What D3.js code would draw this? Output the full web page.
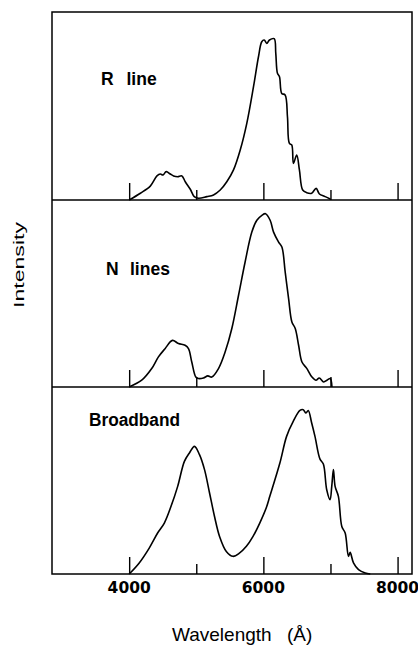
<!DOCTYPE html>
<html>
<head>
<meta charset="utf-8">
<script src="https://cdn.jsdelivr.net/npm/d3@7/dist/d3.min.js"></script>
<style>
  html, body { margin: 0; padding: 0; background: #fff; }
  svg { display: block; }
</style>
</head>
<body>
<svg id="chart" width="418" height="645"></svg>
<script>
// ---------------- DATA ----------------
const majorTicks = [4000, 6000, 8000];
const minorTicks = [5000, 7000];
const tickLabels = ["4000", "6000", "8000"];
const panelNames = ["R line", "N lines", "Broadband"];
const xTitle = "Wavelength";
const xUnit = "(Å)";
const yTitle = "Intensity";

const rLineWl = [4000, 4167, 4315, 4414, 4464, 4503, 4553, 4613, 4662, 4722, 4786, 4836, 4911, 4970, 5034, 5158, 5257, 5357, 5455, 5555, 5655, 5753, 5853, 5927, 5976, 6012, 6051, 6091, 6161, 6185, 6210, 6240, 6274, 6324, 6359, 6388, 6423, 6448, 6497, 6537, 6586, 6646, 6720, 6786, 6835, 6920, 6994, 7000];
const rLineI  = [0, 0.036, 0.074, 0.128, 0.138, 0.133, 0.151, 0.138, 0.128, 0.124, 0.128, 0.097, 0.057, 0.018, 0.009, 0.018, 0.027, 0.053, 0.097, 0.160, 0.266, 0.408, 0.603, 0.762, 0.842, 0.851, 0.833, 0.851, 0.858, 0.780, 0.674, 0.656, 0.567, 0.559, 0.443, 0.301, 0.293, 0.195, 0.239, 0.160, 0.053, 0.039, 0.036, 0.062, 0.032, 0.018, 0.005, 0];

const nLinesWl = [4000, 4187, 4336, 4436, 4535, 4645, 4734, 4833, 4884, 4933, 4993, 5032, 5107, 5172, 5231, 5331, 5430, 5530, 5630, 5728, 5828, 5903, 5978, 6032, 6101, 6152, 6227, 6276, 6325, 6376, 6425, 6475, 6525, 6575, 6649, 6724, 6784, 6833, 6899, 6948, 6997, 7022];
const nLinesI  = [0, 0.036, 0.098, 0.160, 0.204, 0.248, 0.231, 0.222, 0.204, 0.133, 0.053, 0.045, 0.048, 0.059, 0.053, 0.098, 0.186, 0.311, 0.488, 0.665, 0.824, 0.887, 0.913, 0.922, 0.887, 0.824, 0.771, 0.745, 0.612, 0.470, 0.346, 0.311, 0.222, 0.133, 0.098, 0.053, 0.036, 0.048, 0.027, 0.036, 0.045, 0];

const broadWl = [4000, 4150, 4299, 4424, 4524, 4624, 4723, 4823, 4898, 4973, 5048, 5123, 5198, 5272, 5347, 5448, 5546, 5647, 5747, 5846, 5946, 6046, 6096, 6246, 6346, 6445, 6545, 6594, 6635, 6669, 6720, 6769, 6844, 6894, 6944, 6994, 7019, 7044, 7069, 7118, 7169, 7219, 7268, 7293, 7343, 7418, 7518, 7593];
const broadI  = [0, 0.059, 0.138, 0.218, 0.271, 0.360, 0.466, 0.599, 0.644, 0.679, 0.635, 0.555, 0.431, 0.306, 0.200, 0.120, 0.094, 0.112, 0.147, 0.200, 0.271, 0.355, 0.413, 0.590, 0.732, 0.812, 0.870, 0.874, 0.856, 0.870, 0.803, 0.732, 0.611, 0.585, 0.448, 0.395, 0.466, 0.555, 0.466, 0.413, 0.253, 0.218, 0.094, 0.115, 0.059, 0.023, 0.005, 0];

const seriesWl = [rLineWl, nLinesWl, broadWl];
const seriesI  = [rLineI, nLinesI, broadI];

// ---------------- LAYOUT ----------------
const frameL = 52, frameR = 412, frameT = 12, frameB = 574;
const panelBottoms = [200, 387, 574];
const panelH = 188;

const svg = d3.select("#chart");
const x = d3.scaleLinear().domain([2850, 8215]).range([frameL, frameR]);

const line = d3.line()
  .x(d => x(d[0]))
  .y(d => d[2](d[1]))
  .curve(d3.curveCatmullRom.alpha(0.5));

panelBottoms.forEach((pb, i) => {
  const y = d3.scaleLinear().domain([0, 1]).range([pb, pb - panelH]);
  const g = svg.append("g");

  // inward ticks
  const major = d3.axisBottom(x).tickValues(majorTicks).tickSize(-17).tickFormat("");
  const minor = d3.axisBottom(x).tickValues(minorTicks).tickSize(-10).tickFormat("");
  [major, minor].forEach(ax => {
    const a = g.append("g").attr("transform", `translate(0,${pb})`).call(ax);
    a.select(".domain").remove();
    a.selectAll(".tick line").attr("stroke", "#000").attr("stroke-width", 1.4);
  });

  const pts = seriesWl[i].map((w, k) => [w, seriesI[i][k], y]);
  g.append("path")
    .attr("d", line(pts))
    .attr("fill", "none")
    .attr("stroke", "#000")
    .attr("stroke-width", 1.6)
    .attr("stroke-linejoin", "round");
});

// frame and separators
svg.append("rect")
  .attr("x", frameL).attr("y", frameT)
  .attr("width", frameR - frameL).attr("height", frameB - frameT)
  .attr("fill", "none").attr("stroke", "#000").attr("stroke-width", 1.5);
panelBottoms.slice(0, 2).forEach(pb => {
  svg.append("line")
    .attr("x1", frameL).attr("x2", frameR).attr("y1", pb).attr("y2", pb)
    .attr("stroke", "#000").attr("stroke-width", 1.5);
});

// panel labels
const lab = svg.append("g")
  .attr("font-family", "'Liberation Sans', Arial, sans-serif")
  .attr("font-weight", "bold")
  .attr("font-size", 17.5)
  .attr("fill", "#000");
const t1 = lab.append("text").attr("y", 85);
t1.append("tspan").attr("x", 101).text(panelNames[0].split(" ")[0]);
t1.append("tspan").attr("x", 126.5).text(panelNames[0].split(" ")[1]);
const t2 = lab.append("text").attr("y", 275);
t2.append("tspan").attr("x", 106).text(panelNames[1].split(" ")[0]);
t2.append("tspan").attr("x", 130).text(panelNames[1].split(" ")[1]);
lab.append("text").attr("x", 89).attr("y", 426)
  .attr("font-size", 17.5).attr("textLength", 91).attr("lengthAdjust", "spacingAndGlyphs")
  .text(panelNames[2]);

// tick labels
svg.append("g").selectAll("text")
  .data(majorTicks)
  .join("text")
  .attr("x", d => x(d))
  .attr("y", 593)
  .attr("text-anchor", "middle")
  .attr("font-family", "'DejaVu Sans', sans-serif")
  .attr("font-weight", "bold")
  .attr("font-size", 15.5)
  .text((d, i) => tickLabels[i]);

// axis titles
const xt = svg.append("text")
  .attr("y", 641)
  .attr("font-family", "'Liberation Sans', Arial, sans-serif")
  .attr("font-size", 19)
  .attr("fill", "#000");
xt.append("tspan").attr("x", 172).text(xTitle);
xt.append("tspan").attr("x", 287).text(xUnit);

svg.append("text")
  .attr("transform", "translate(24,265) rotate(-90)")
  .attr("text-anchor", "middle")
  .attr("font-family", "'Liberation Sans', Arial, sans-serif")
  .attr("font-size", 15)
  .attr("textLength", 86)
  .attr("lengthAdjust", "spacingAndGlyphs")
  .text(yTitle);
</script>
</body>
</html>
